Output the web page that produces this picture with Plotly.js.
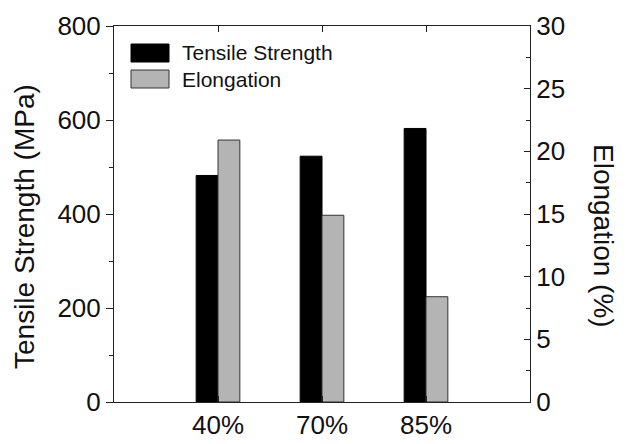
<!DOCTYPE html>
<html>
<head>
<meta charset="utf-8">
<script src="https://cdn.plot.ly/plotly-3.0.1.min.js"></script>
<style>html,body{margin:0;padding:0;background:#fff;}#chart{width:629px;height:444px;}</style>
</head>
<body>
<div id="chart"></div>
<script>
const categories = ["40%", "70%", "85%"];
const tensileStrength = [482, 523, 582];
const elongation = [20.9, 14.9, 8.4];
const seriesNames = ["Tensile Strength", "Elongation"];
const axisTitles = ["Tensile Strength (MPa)", "Elongation (%)"];

const FONT = "Liberation Sans, Arial, sans-serif";
const axisColor = "#222";

const traces = [
  {
    type: "bar", name: seriesNames[0], x: categories, y: tensileStrength,
    width: 0.21, offset: -0.21,
    marker: {color: "#000", line: {color: "#000", width: 1}},
    showlegend: false, hoverinfo: "x+y"
  },
  {
    type: "bar", name: seriesNames[1], x: categories, y: elongation, yaxis: "y2",
    width: 0.21, offset: 0,
    marker: {color: "#b4b4b4", line: {color: "#333", width: 1}},
    showlegend: false, hoverinfo: "x+y"
  }
];

const layout = {
  width: 629, height: 444,
  margin: {l: 114, r: 99, t: 26, b: 42},
  paper_bgcolor: "#fff", plot_bgcolor: "#fff",
  font: {family: FONT, size: 26, color: "#111"},
  barmode: "overlay",
  xaxis: {
    type: "category", range: [-1, 3],
    showline: true, linecolor: axisColor, linewidth: 1, mirror: "ticks",
    ticks: "inside", ticklen: 6, tickcolor: axisColor,
    showgrid: false, zeroline: false,
    tickfont: {size: 26}
  },
  yaxis: {
    range: [0, 800], dtick: 200, tick0: 0,
    showline: true, linecolor: axisColor, linewidth: 1,
    ticks: "outside", ticklen: 7, tickcolor: axisColor,
    minor: {dtick: 100, ticks: "outside", ticklen: 4, tickcolor: axisColor, showgrid: false},
    showgrid: false, zeroline: false,
    tickfont: {size: 26}
  },
  yaxis2: {
    overlaying: "y", side: "right",
    range: [0, 30], dtick: 5, tick0: 0,
    showline: true, linecolor: axisColor, linewidth: 1,
    ticks: "inside", ticklen: 6, tickcolor: axisColor,
    minor: {dtick: 2.5, ticks: "inside", ticklen: 4, tickcolor: axisColor, showgrid: false},
    showgrid: false, zeroline: false,
    tickfont: {size: 26}
  },
  shapes: [
    {type: "rect", xref: "paper", yref: "paper",
     x0: (131-114)/416, x1: (169-114)/416, y0: (402-62)/376, y1: (402-44)/376,
     fillcolor: "#000", line: {color: "#000", width: 1}},
    {type: "rect", xref: "paper", yref: "paper",
     x0: (131-114)/416, x1: (169-114)/416, y0: (402-88)/376, y1: (402-70)/376,
     fillcolor: "#b4b4b4", line: {color: "#333", width: 1}}
  ],
  annotations: [
    {xref: "paper", yref: "paper", x: (180-114)/416, y: (402-53)/376, xanchor: "left", yanchor: "middle",
     text: seriesNames[0], showarrow: false, font: {size: 21, color: "#111"}},
    {xref: "paper", yref: "paper", x: (180-114)/416, y: (402-79)/376, xanchor: "left", yanchor: "middle",
     text: seriesNames[1], showarrow: false, font: {size: 21, color: "#111"}},
    {xref: "paper", yref: "paper", x: (25-114)/416, y: (402-227)/376, xanchor: "center", yanchor: "middle",
     text: axisTitles[0], textangle: -90, showarrow: false, font: {size: 28, color: "#111"}},
    {xref: "paper", yref: "paper", x: (604-114)/416, y: (402-236)/376, xanchor: "center", yanchor: "middle",
     text: axisTitles[1], textangle: 90, showarrow: false, font: {size: 28, color: "#111"}}
  ]
};

Plotly.newPlot("chart", traces, layout, {displayModeBar: false, staticPlot: true});
</script>
</body>
</html>
